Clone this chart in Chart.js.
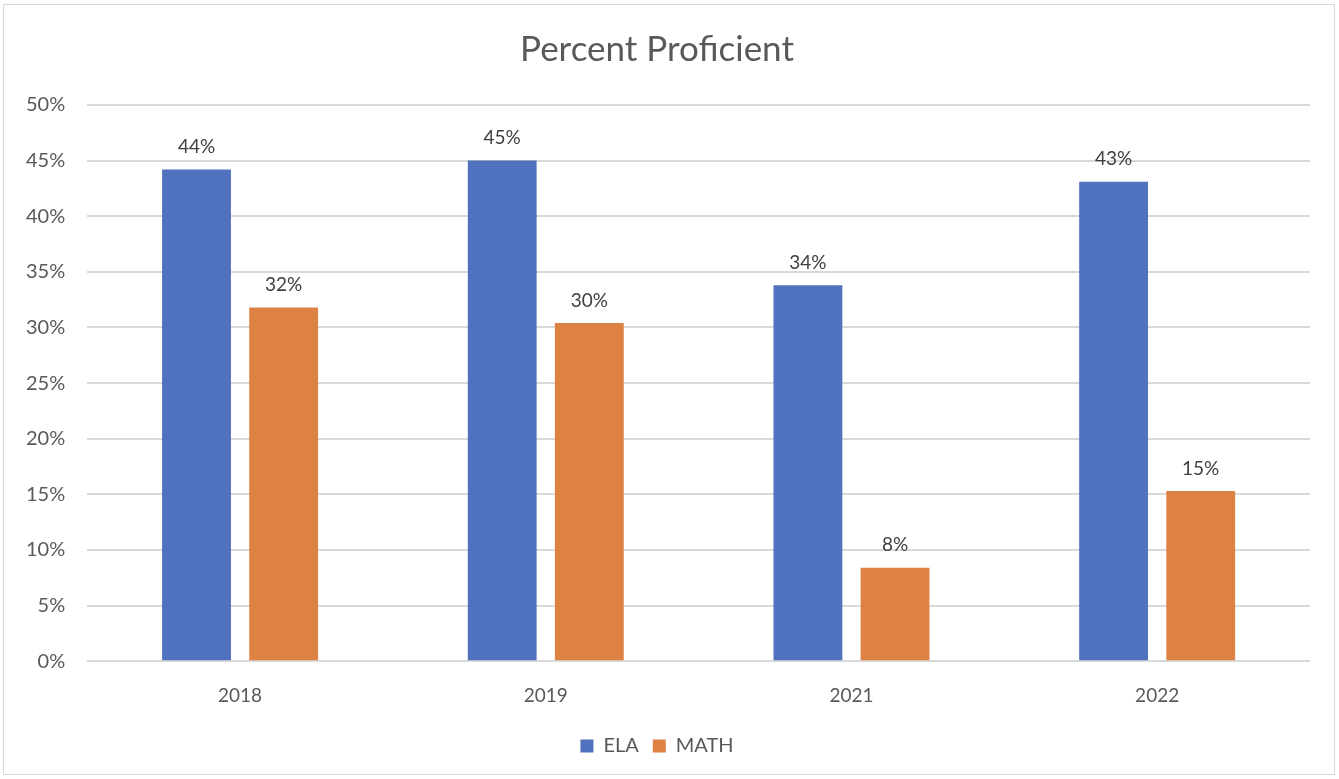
<!DOCTYPE html>
<html>
<head>
<meta charset="utf-8">
<script src="https://cdn.jsdelivr.net/npm/chart.js@4"></script>
<style>
  body { margin: 0; background: #fff; }
  #cadre { position: absolute; left: 3px; top: 4px; width: 1332px; height: 771px; border: 1px solid #d9d9d9; box-sizing: border-box; }
  #cadre canvas { display: block; }
</style>
</head>
<body>
<div id="cadre"><canvas id="grafico"></canvas></div>
<script>
// Dados
const anos = ['2018', '2019', '2021', '2022'];
const ela = [44.2, 45.0, 33.8, 43.1];
const math = [31.8, 30.4, 8.4, 15.3];
const ticksY = [0, 5, 10, 15, 20, 25, 30, 35, 40, 45, 50];

const corTexto = '#595959';
const fonte = 'Lato, "Open Sans", sans-serif';

// rótulos em cima das barras
const rotulos = {
  id: 'rotulos',
  afterDatasetsDraw(chart) {
    const ctx = chart.ctx;
    ctx.save();
    ctx.font = '19px ' + fonte;
    ctx.fillStyle = '#404040';
    ctx.textAlign = 'center';
    ctx.textBaseline = 'bottom';
    chart.data.datasets.forEach((ds, i) => {
      chart.getDatasetMeta(i).data.forEach((barra, j) => {
        ctx.fillText(Math.round(ds.data[j]) + '%', barra.x, barra.y - 13);
      });
    });
    ctx.restore();
  }
};

new Chart(document.getElementById('grafico'), {
  type: 'bar',
  data: {
    labels: anos,
    datasets: [
      { label: 'ELA', data: ela, backgroundColor: '#4f71be', categoryPercentage: 0.57, barPercentage: 0.79 },
      { label: 'MATH', data: math, backgroundColor: '#de8244', categoryPercentage: 0.57, barPercentage: 0.79 }
    ]
  },
  options: {
    responsive: true,
    maintainAspectRatio: false,
    animation: false,
    layout: { padding: { left: 0, right: 24, top: 21, bottom: 8 } },
    plugins: {
      title: {
        display: true,
        text: 'Percent Proficient',
        color: corTexto,
        font: { family: fonte, size: 35, weight: 'normal' },
        padding: { top: 3, bottom: 34 }
      },
      legend: {
        position: 'bottom',
        labels: {
          color: corTexto,
          font: { family: fonte, size: 20 },
          boxWidth: 13,
          boxHeight: 13,
          padding: 14
        }
      },
      tooltip: { enabled: false }
    },
    scales: {
      x: {
        grid: { display: false },
        border: { display: false },
        ticks: { color: corTexto, font: { family: fonte, size: 19 }, padding: 15 }
      },
      y: {
        min: 0,
        max: 50,
        afterBuildTicks: ax => { ax.ticks = ticksY.map(v => ({ value: v })); },
        grid: { color: '#d9d9d9', lineWidth: 2, drawTicks: false },
        border: { display: false },
        ticks: { color: corTexto, font: { family: fonte, size: 20 }, padding: 22, callback: v => v + '%' }
      }
    }
  },
  plugins: [rotulos]
});
</script>
</body>
</html>
